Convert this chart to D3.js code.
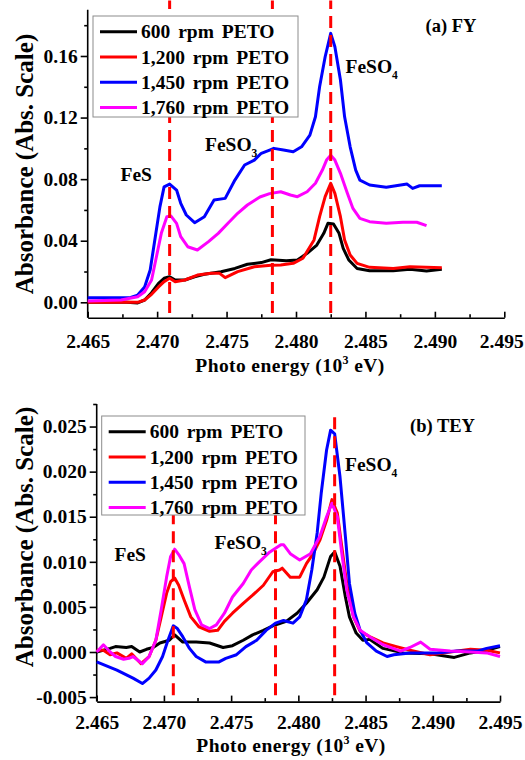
<!DOCTYPE html>
<html>
<head>
<meta charset="utf-8">
<script src="https://cdn.jsdelivr.net/npm/d3@7"></script>
<style>
  body { margin: 0; background: #fff; }
  svg text { font-family: "Liberation Serif", "Times New Roman", serif; font-weight: bold; }
</style>
</head>
<body>
<svg id="chart" width="525" height="760"></svg>
<script>
// ---- data (energy in 10^3 eV, absorbance) ----
var legendLabels = ['600 rpm PETO', '1,200 rpm PETO', '1,450 rpm PETO', '1,760 rpm PETO'];

var energyTicks = [2.465, 2.470, 2.475, 2.480, 2.485, 2.490, 2.495];
var energyMinor = [2.4675, 2.4725, 2.4775, 2.4825, 2.4875, 2.4925];

var fyTicks = [0.00, 0.04, 0.08, 0.12, 0.16];
var fyMinor = [0.02, 0.06, 0.10, 0.14, 0.18];
var teyTicks = [-0.005, 0.000, 0.005, 0.010, 0.015, 0.020, 0.025];
var teyMinor = [-0.0025, 0.0025, 0.0075, 0.0125, 0.0175, 0.0225, 0.0275];

// peak positions: FeS, FeSO3, FeSO4
var fyPeaks = [2.4709, 2.4783, 2.4825];
var teyPeaks = [2.4707, 2.4783, 2.4827];

var fy600 = [[2.4650,0.0000],[2.4665,0.0002],[2.4678,0.0001],[2.4686,-0.0004],[2.4691,0.0015],[2.4696,0.0062],
  [2.4701,0.0123],[2.4705,0.0156],[2.4709,0.0166],[2.4713,0.0145],[2.4720,0.0145],[2.4727,0.0166],[2.4734,0.0182],
  [2.4746,0.0199],[2.4756,0.0220],[2.4765,0.0247],[2.4775,0.0258],[2.4782,0.0276],[2.4793,0.0270],[2.4801,0.0275],
  [2.4808,0.0318],[2.4815,0.0372],[2.4820,0.0448],[2.4823,0.0513],[2.4827,0.0508],[2.4831,0.0448],[2.4834,0.0350],
  [2.4838,0.0275],[2.4844,0.0220],[2.4853,0.0205],[2.4870,0.0205],[2.4882,0.0214],[2.4894,0.0203],[2.4905,0.0214]];
var fy1200 = [[2.4650,0.0000],[2.4670,0.0002],[2.4686,0.0000],[2.4691,0.0015],[2.4696,0.0052],[2.4701,0.0100],
  [2.4705,0.0134],[2.4709,0.0156],[2.4713,0.0134],[2.4720,0.0145],[2.4729,0.0177],[2.4739,0.0188],[2.4745,0.0188],
  [2.4749,0.0160],[2.4758,0.0199],[2.4770,0.0231],[2.4782,0.0240],[2.4789,0.0242],[2.4798,0.0253],[2.4805,0.0286],
  [2.4813,0.0405],[2.4817,0.0556],[2.4821,0.0686],[2.4825,0.0773],[2.4828,0.0708],[2.4832,0.0556],[2.4835,0.0405],
  [2.4839,0.0307],[2.4844,0.0253],[2.4853,0.0227],[2.4870,0.0220],[2.4882,0.0231],[2.4905,0.0225]];
var fy1450 = [[2.4650,0.0030],[2.4674,0.0030],[2.4681,0.0032],[2.4686,0.0047],[2.4691,0.0100],[2.4695,0.0210],
  [2.4698,0.0385],[2.4702,0.0620],[2.4705,0.0750],[2.4709,0.0768],[2.4714,0.0729],[2.4717,0.0643],[2.4721,0.0567],
  [2.4727,0.0517],[2.4734,0.0556],[2.4741,0.0664],[2.4749,0.0675],[2.4756,0.0794],[2.4763,0.0892],[2.4770,0.0924],
  [2.4775,0.0968],[2.4781,0.0989],[2.4784,0.1000],[2.4791,0.0989],[2.4798,0.0978],[2.4804,0.1010],[2.4810,0.1086],
  [2.4814,0.1205],[2.4817,0.1400],[2.4821,0.1595],[2.4825,0.1747],[2.4828,0.1660],[2.4832,0.1444],[2.4835,0.1205],
  [2.4839,0.1010],[2.4843,0.0859],[2.4846,0.0794],[2.4853,0.0762],[2.4865,0.0747],[2.4880,0.0768],[2.4884,0.0740],
  [2.4889,0.0757],[2.4905,0.0757]];
var fy1760 = [[2.4650,0.0008],[2.4674,0.0015],[2.4686,0.0036],[2.4691,0.0069],[2.4696,0.0145],[2.4699,0.0275],
  [2.4703,0.0448],[2.4707,0.0556],[2.4710,0.0560],[2.4714,0.0513],[2.4717,0.0426],[2.4722,0.0361],[2.4729,0.0340],
  [2.4737,0.0394],[2.4744,0.0448],[2.4751,0.0513],[2.4758,0.0578],[2.4765,0.0632],[2.4774,0.0684],[2.4781,0.0706],
  [2.4789,0.0718],[2.4796,0.0697],[2.4801,0.0686],[2.4808,0.0718],[2.4814,0.0773],[2.4819,0.0859],[2.4822,0.0924],
  [2.4825,0.0956],[2.4828,0.0924],[2.4832,0.0838],[2.4837,0.0708],[2.4841,0.0610],[2.4846,0.0545],[2.4853,0.0524],
  [2.4865,0.0513],[2.4877,0.0520],[2.4887,0.0520],[2.4894,0.0498]];

var tey600 = [[2.4650,0.0000],[2.4660,0.0004],[2.4664,0.0006],[2.4672,0.0005],[2.4676,0.0006],[2.4682,0.0000],
  [2.4687,0.0003],[2.4692,0.0005],[2.4697,0.0010],[2.4704,0.0013],[2.4708,0.0019],[2.4714,0.0011],[2.4724,0.0011],
  [2.4734,0.0010],[2.4744,0.0005],[2.4751,0.0007],[2.4759,0.0013],[2.4766,0.0019],[2.4774,0.0024],[2.4781,0.0029],
  [2.4791,0.0034],[2.4799,0.0043],[2.4806,0.0054],[2.4814,0.0069],[2.4819,0.0083],[2.4824,0.0106],[2.4827,0.0111],
  [2.4831,0.0095],[2.4835,0.0061],[2.4838,0.0039],[2.4843,0.0021],[2.4848,0.0013],[2.4853,0.0014],[2.4863,0.0004],
  [2.4878,-0.0001],[2.4898,-0.0002],[2.4916,-0.0006],[2.4928,-0.0001],[2.4940,0.0002],[2.4950,0.0006]];
var tey1200 = [[2.4650,0.0002],[2.4655,0.0002],[2.4660,-0.0003],[2.4665,-0.0001],[2.4672,-0.0007],[2.4676,-0.0002],
  [2.4683,-0.0013],[2.4689,-0.0005],[2.4694,0.0013],[2.4698,0.0039],[2.4702,0.0065],[2.4705,0.0078],[2.4708,0.0082],
  [2.4711,0.0074],[2.4715,0.0058],[2.4720,0.0039],[2.4726,0.0028],[2.4734,0.0023],[2.4740,0.0024],[2.4745,0.0034],
  [2.4751,0.0043],[2.4759,0.0054],[2.4766,0.0063],[2.4774,0.0074],[2.4781,0.0089],[2.4786,0.0091],[2.4788,0.0093],
  [2.4794,0.0083],[2.4801,0.0083],[2.4806,0.0098],[2.4811,0.0109],[2.4816,0.0124],[2.4821,0.0146],[2.4825,0.0169],
  [2.4829,0.0154],[2.4832,0.0120],[2.4836,0.0076],[2.4841,0.0039],[2.4846,0.0023],[2.4853,0.0017],[2.4863,0.0010],
  [2.4873,0.0006],[2.4883,0.0002],[2.4898,-0.0003],[2.4913,0.0000],[2.4928,0.0003],[2.4940,0.0002],[2.4950,-0.0001]];
var tey1450 = [[2.4650,-0.0011],[2.4665,-0.0020],[2.4677,-0.0029],[2.4684,-0.0035],[2.4689,-0.0029],[2.4694,-0.0020],
  [2.4699,-0.0005],[2.4703,0.0013],[2.4707,0.0029],[2.4710,0.0026],[2.4714,0.0017],[2.4719,0.0004],[2.4724,-0.0005],
  [2.4731,-0.0011],[2.4741,-0.0011],[2.4746,-0.0007],[2.4754,-0.0003],[2.4761,0.0006],[2.4769,0.0013],[2.4776,0.0024],
  [2.4783,0.0032],[2.4789,0.0035],[2.4796,0.0032],[2.4801,0.0039],[2.4806,0.0058],[2.4810,0.0091],[2.4814,0.0132],
  [2.4817,0.0176],[2.4821,0.0224],[2.4824,0.0246],[2.4827,0.0242],[2.4831,0.0194],[2.4835,0.0128],[2.4838,0.0076],
  [2.4842,0.0043],[2.4846,0.0024],[2.4851,0.0010],[2.4858,0.0001],[2.4866,-0.0005],[2.4871,-0.0003],[2.4883,-0.0001],
  [2.4903,-0.0001],[2.4918,0.0001],[2.4933,0.0001],[2.4940,0.0004],[2.4950,0.0007]];
var tey1760 = [[2.4650,0.0000],[2.4655,0.0008],[2.4660,0.0000],[2.4664,-0.0005],[2.4670,-0.0008],[2.4674,-0.0007],
  [2.4677,-0.0005],[2.4684,-0.0013],[2.4689,-0.0005],[2.4694,0.0013],[2.4698,0.0047],[2.4702,0.0083],[2.4705,0.0106],
  [2.4708,0.0114],[2.4711,0.0108],[2.4715,0.0098],[2.4719,0.0072],[2.4723,0.0047],[2.4728,0.0030],[2.4734,0.0026],
  [2.4739,0.0030],[2.4745,0.0043],[2.4751,0.0061],[2.4759,0.0076],[2.4765,0.0091],[2.4771,0.0100],[2.4778,0.0110],
  [2.4787,0.0119],[2.4789,0.0119],[2.4794,0.0109],[2.4801,0.0102],[2.4809,0.0109],[2.4816,0.0128],[2.4821,0.0150],
  [2.4825,0.0165],[2.4829,0.0150],[2.4832,0.0113],[2.4836,0.0069],[2.4841,0.0039],[2.4846,0.0024],[2.4853,0.0017],
  [2.4863,0.0008],[2.4876,0.0001],[2.4883,0.0005],[2.4891,0.0011],[2.4898,0.0003],[2.4913,0.0001],[2.4928,0.0000],
  [2.4940,-0.0001],[2.4950,-0.0005]];

var colors = ['#000000', '#ff0000', '#0000ff', '#ff00ff'];
var svg = d3.select('#chart');

function drawPanel(p) {
  var x = d3.scaleLinear().domain([2.465, 2.495]).range([p.left, p.right]);
  var y = d3.scaleLinear().domain(p.yDomain).range([p.bottom, p.top]);
  var g = svg.append('g');

  // x axis, ticks pointing up
  var xa = g.append('g').attr('transform', 'translate(0,' + p.bottom + ')')
    .call(d3.axisBottom(x).tickValues(energyTicks).tickFormat(d3.format('.3f'))
      .tickSizeInner(-6).tickSizeOuter(0).tickPadding(p.xPad));
  // last label sits against the page edge
  xa.selectAll('.tick text').filter(function(d, i, n) { return i === n.length - 1; })
    .attr('x', p.lastShift);
  g.append('g').attr('transform', 'translate(0,' + p.bottom + ')')
    .call(d3.axisBottom(x).tickValues(energyMinor).tickFormat('').tickSize(-3.5))
    .call(function(s) { s.select('.domain').remove(); });

  // y axis, ticks pointing out
  var ya = g.append('g').attr('transform', 'translate(' + p.left + ',0)')
    .call(d3.axisLeft(y).tickValues(p.yTicks)
      .tickFormat(function(d) { return d3.format(p.fmt)(d).replace('\u2212', '-'); })
      .tickSizeInner(7).tickSizeOuter(0).tickPadding(3));
  g.append('g').attr('transform', 'translate(' + p.left + ',0)')
    .call(d3.axisLeft(y).tickValues(p.yMinor).tickFormat('').tickSize(3.5))
    .call(function(s) { s.select('.domain').remove(); });

  g.selectAll('.domain, .tick line').attr('stroke-width', 1.6);
  [xa, ya].forEach(function(a) { a.attr('font-size', 19.5).attr('font-family', null); });
  // keep the y axis line through the whole range
  ya.select('.domain').attr('d', 'M0,' + y(p.yDomain[0]) + 'V' + y(p.yDomain[1]));

  // curves
  var line = d3.line().x(function(d) { return x(d[0]); }).y(function(d) { return y(d[1]); });
  g.selectAll('.curve').data(p.series).enter().append('path')
    .attr('class', 'curve')
    .attr('d', line)
    .attr('fill', 'none')
    .attr('stroke', function(d, i) { return colors[i]; })
    .attr('stroke-width', 3)
    .attr('stroke-linejoin', 'round');

  // peak markers
  g.selectAll('.peak').data(p.peaks).enter().append('line')
    .attr('class', 'peak')
    .attr('x1', function(d) { return x(d); }).attr('x2', function(d) { return x(d); })
    .attr('y1', y(p.dash[0])).attr('y2', y(p.dash[1]))
    .attr('stroke', '#ff0000').attr('stroke-width', 3).attr('stroke-dasharray', '12,7');

  // legend
  var lg = g.append('g').attr('transform', 'translate(' + p.leg[0] + ',' + p.leg[1] + ')');
  lg.append('rect').attr('width', p.leg[2]).attr('height', p.leg[3])
    .attr('fill', '#fff').attr('stroke', '#8c8c8c').attr('stroke-width', 1);
  var row = lg.selectAll('.row').data(legendLabels).enter().append('g')
    .attr('transform', function(d, i) { return 'translate(0,' + (15.7 + i * 25.3) + ')'; });
  row.append('line').attr('x1', 7).attr('x2', 44)
    .attr('stroke', function(d, i) { return colors[i]; }).attr('stroke-width', 3);
  row.append('text').attr('x', 48).attr('y', 6.5).attr('font-size', 19.5)
    .attr('word-spacing', 3).text(function(d) { return d; });

  // axis titles
  g.append('text').attr('transform', 'translate(33,' + p.yLabelY + ') rotate(-90)')
    .attr('text-anchor', 'middle').attr('font-size', 25).text('Absorbance (Abs. Scale)');
  var xt = g.append('text').attr('x', p.xLabel[0]).attr('y', p.xLabel[1])
    .attr('text-anchor', 'middle').attr('font-size', 19.5).attr('letter-spacing', 0.4);
  xt.append('tspan').text('Photo energy (10');
  xt.append('tspan').attr('font-size', 12).attr('dy', -8).text('3');
  xt.append('tspan').attr('dy', 8).text(' eV)');

  // annotations
  g.append('text').attr('x', p.title[0]).attr('y', p.title[1]).attr('font-size', 18.5).text(p.title[2]);
  g.append('text').attr('x', p.fes[0]).attr('y', p.fes[1]).attr('font-size', 19.5).text('FeS');
  [[p.so3, '3'], [p.so4, '4']].forEach(function(a) {
    var t = g.append('text').attr('x', a[0][0]).attr('y', a[0][1]).attr('font-size', 19.5);
    t.append('tspan').text('FeSO');
    t.append('tspan').attr('font-size', 11.5).attr('dy', 6).text(a[1]);
  });
}

drawPanel({
  left: 87.7, right: 504.3, top: 9.8, bottom: 317.7,
  yDomain: [-0.01, 0.19], yTicks: fyTicks, yMinor: fyMinor, fmt: '.2f', xPad: 16, lastShift: -3,
  series: [fy600, fy1200, fy1450, fy1760], peaks: fyPeaks, dash: [-0.007, 0.196],
  leg: [93, 16, 205, 101], yLabelY: 164, xLabel: [290, 372],
  title: [425.5, 31.5, '(a) FY'], fes: [120.5, 181], so3: [205, 151], so4: [345.5, 73]
});

drawPanel({
  left: 96.7, right: 500, top: 404, bottom: 701.6,
  yDomain: [-0.0055, 0.0275], yTicks: teyTicks, yMinor: teyMinor, fmt: '.3f', xPad: 14, lastShift: 0,
  series: [tey600, tey1200, tey1450, tey1760], peaks: teyPeaks, dash: [-0.0048, 0.0266],
  leg: [101.7, 416, 203.3, 99], yLabelY: 537, xLabel: [291, 752],
  title: [410, 432, '(b) TEY'], fes: [114.5, 561], so3: [214.5, 549], so4: [345, 471]
});
</script>
</body>
</html>
